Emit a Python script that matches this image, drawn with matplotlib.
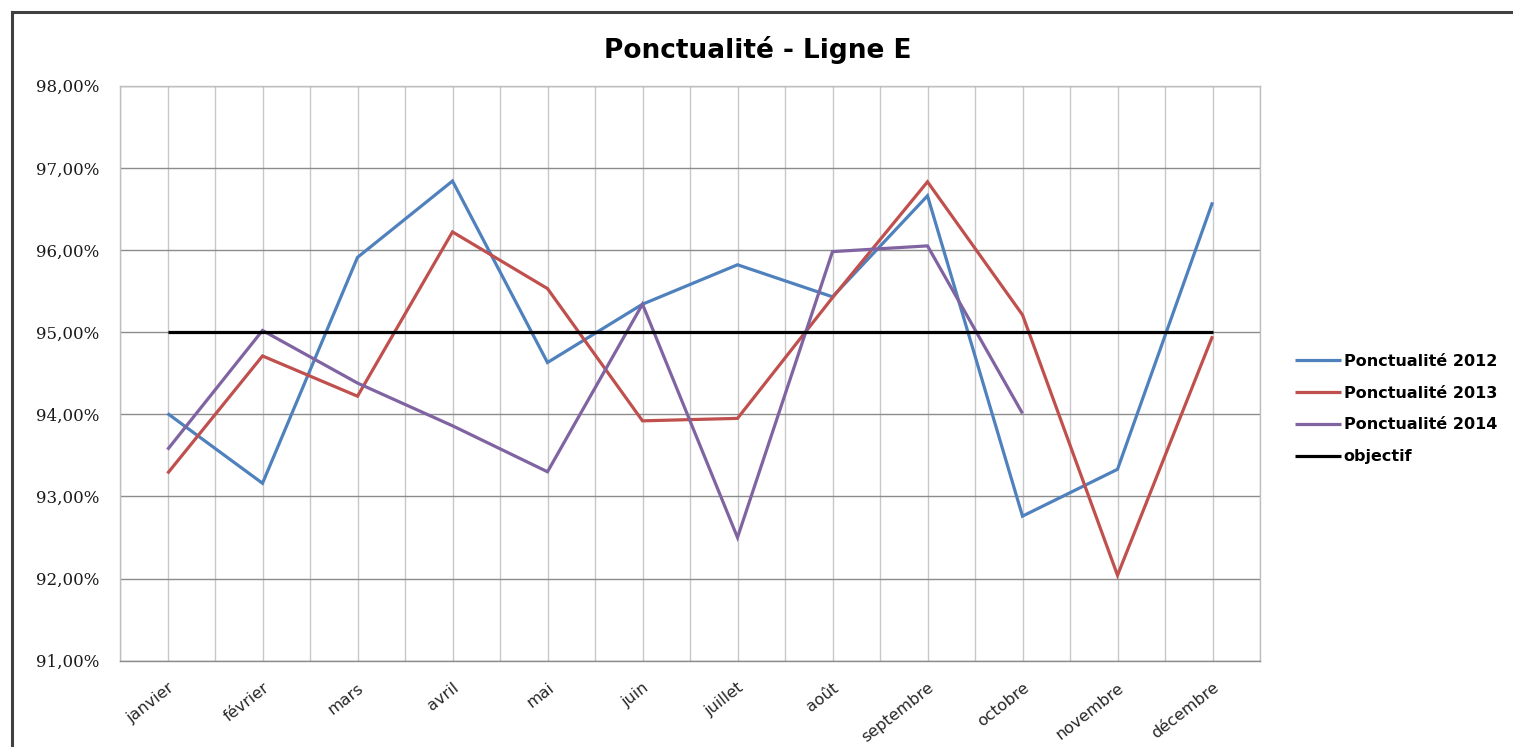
import matplotlib
matplotlib.use("Agg")
import matplotlib.pyplot as plt
from matplotlib.lines import Line2D
from matplotlib.ticker import FuncFormatter, MultipleLocator

mois = ["janvier", "février", "mars", "avril", "mai", "juin", "juillet",
        "août", "septembre", "octobre", "novembre", "décembre"]

ponct_2012 = [94.01, 93.16, 95.91, 96.84, 94.63, 95.34, 95.82, 95.43, 96.66, 92.76, 93.33, 96.58]
ponct_2013 = [93.28, 94.71, 94.22, 96.22, 95.53, 93.92, 93.95, 95.42, 96.83, 95.21, 92.04, 94.95]
ponct_2014 = [93.57, 95.02, 94.38, 93.86, 93.30, 95.34, 92.50, 95.98, 96.05, 94.01]
objectif = [95.0] * 12

series = [
    ("Ponctualité 2012", ponct_2012, "#4F81BD"),
    ("Ponctualité 2013", ponct_2013, "#C0504D"),
    ("Ponctualité 2014", ponct_2014, "#8064A2"),
    ("objectif", objectif, "#000000"),
]

fig = plt.figure(figsize=(15.13, 7.47), dpi=100)
ax = fig.add_axes([120 / 1513, 1 - 660.7 / 747, 1140 / 1513, (660.7 - 85.7) / 747])

for label, vals, color in series:
    ax.plot(range(len(vals)), vals, color=color, lw=2.3, label=label,
            solid_joinstyle="miter", solid_capstyle="butt")

ax.set_xlim(-0.5, 11.5)
ax.set_ylim(91, 98)
ax.yaxis.set_major_locator(MultipleLocator(1))
ax.yaxis.set_major_formatter(FuncFormatter(lambda v, p: f"{v:.2f}%".replace(".", ",")))

ax.set_xticks(range(12))
ax.set_xticks([i + 0.5 for i in range(-1, 12)], minor=True)
ax.set_xticklabels(mois, rotation=38, ha="right", va="top", rotation_mode="anchor",
                   family="DejaVu Sans", fontsize=11.5, color="#262626")
for t in ax.get_yticklabels():
    t.set_family("DejaVu Serif")
    t.set_fontsize(12)
    t.set_color("#1a1a1a")

ax.tick_params(axis="both", which="both", length=0)
ax.tick_params(axis="y", pad=15)
ax.tick_params(axis="x", pad=14)

ax.grid(axis="y", color="#8c8c8c", lw=1.0)
ax.grid(axis="x", which="both", color="#c8c8c8", lw=1.0)
ax.set_axisbelow(True)
for side, sp in ax.spines.items():
    sp.set_color("#bfbfbf")
    sp.set_linewidth(1.0)
ax.spines["bottom"].set_color("#8c8c8c")

fig.text(758 / 1513, 1 - 50 / 747, "Ponctualité - Ligne E", ha="center", va="center",
         family="DejaVu Sans", fontsize=19, fontweight="bold", color="#000000")

leg = ax.legend(loc="center left", bbox_to_anchor=(1287 / 1513, 1 - 409 / 747),
                bbox_transform=fig.transFigure, frameon=False, borderpad=0,
                handlelength=2.9, handletextpad=0.15, labelspacing=1.05,
                prop={"family": "DejaVu Sans", "weight": "bold", "size": 11.5})
for t in leg.get_texts():
    t.set_color("#000000")

# cadre du graphique (coin haut-gauche visible)
fig.add_artist(Line2D([12 / 1513, 12 / 1513], [0, 1 - 12 / 747], color="#404040", lw=2.2))
fig.add_artist(Line2D([12 / 1513, 1.01], [1 - 12 / 747, 1 - 12 / 747], color="#404040", lw=2.2))

fig.savefig("out.png", dpi=100)
